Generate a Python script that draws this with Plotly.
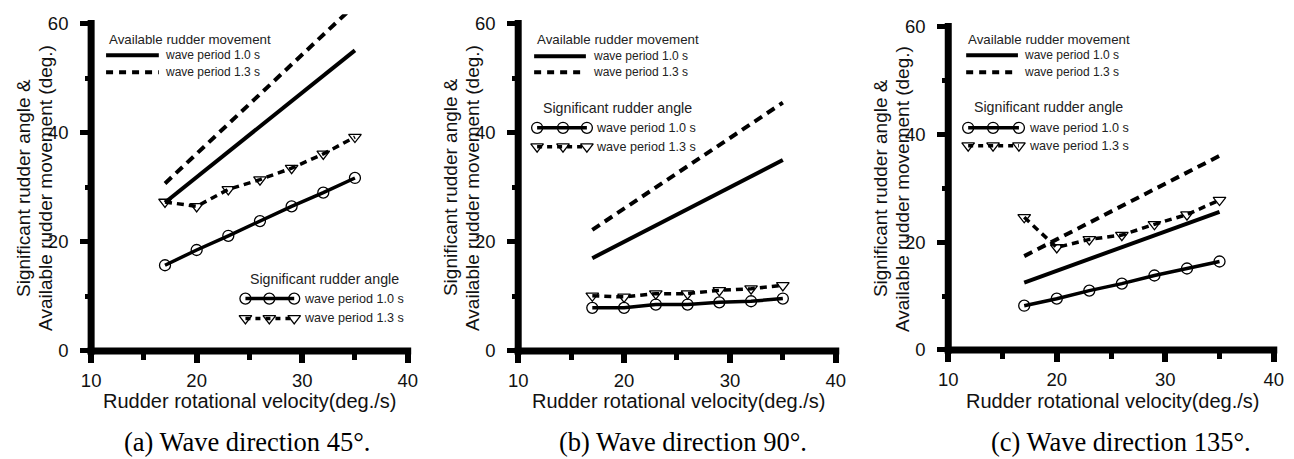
import plotly.graph_objects as go

# ---------------- data ----------------
x_vel = [17, 20, 23, 26, 29, 32, 35]
x_avail = [17, 35]

a_avail_10 = [27.2, 55.1]
a_avail_13 = [30.7, 63.4]
a_sig_10 = [15.7, 18.5, 21.1, 23.8, 26.5, 29.0, 31.7]
a_sig_13 = [27.3, 26.5, 29.6, 31.4, 33.5, 36.1, 39.2]

b_avail_10 = [17.0, 35.0]
b_avail_13 = [22.2, 45.5]
b_sig_10 = [7.9, 7.9, 8.5, 8.5, 8.9, 9.1, 9.6]
b_sig_13 = [10.1, 9.9, 10.5, 10.5, 11.1, 11.4, 12.0]

c_avail_10 = [12.5, 25.6]
c_avail_13 = [17.4, 36.0]
c_sig_10 = [8.2, 9.5, 11.0, 12.3, 13.8, 15.1, 16.4]
c_sig_13 = [24.6, 19.0, 20.5, 21.3, 23.3, 25.1, 27.8]

captions = ["(a) Wave direction 45°.", "(b) Wave direction 90°.", "(c) Wave direction 135°."]
x_ticks = [10, 20, 30, 40]
x_minor = [15, 25, 35]
y_ticks = [0, 20, 40, 60]
y_minor = [10, 30, 50]
x_title = "Rudder rotational velocity(deg./s)"
y_title1 = "Significant rudder angle &"
y_title2 = "Available rudder movement (deg.)"
leg1_title = "Available rudder movement"
leg2_title = "Significant rudder angle"
entry_10 = "wave period 1.0 s"
entry_13 = "wave period 1.3 s"

# ---------------- layout constants ----------------
W, H = 1294, 459
SANS = "Liberation Sans, Arial, sans-serif"
SERIF = "Liberation Serif, Times New Roman, serif"
XR = [10, 40]
YR = [0, 61.7]


# convert target-picture pixel positions into figure pixel positions
def RX(r):
    return (r - 6.5) / 0.989


def RY(r):
    return (r + 0.7) / 0.983


def fx(r):
    return RX(r) / W


def fy(r):
    return 1 - RY(r) / H


panels = [
    dict(data=(a_avail_10, a_avail_13, a_sig_10, a_sig_13),
         px_x=(88, 406), px_y=(351.7, 12.7),
         leg1=dict(tx=104, ty=38, l0=103, l1=156, r1=54, r2=71, etx=160),
         leg2=dict(tx=246, ty=279, mx=(243, 267, 292), r1=299, r2=319, etx=300),
         xt=(247, 402), cap=(245, 443)),
    dict(data=(b_avail_10, b_avail_13, b_sig_10, b_sig_13),
         px_x=(517, 836), px_y=(351.7, 12.7),
         leg1=dict(tx=534, ty=38, l0=533, l1=585, r1=55, r2=71, etx=590),
         leg2=dict(tx=540, ty=107, mx=(536, 562, 586), r1=127, r2=146, etx=593),
         xt=(678, 402), cap=(683, 443)),
    dict(data=(c_avail_10, c_avail_13, c_sig_10, c_sig_13),
         px_x=(949, 1276), px_y=(350.7, 15.7),
         leg1=dict(tx=967, ty=38, l0=967, l1=1019, r1=54, r2=71, etx=1023),
         leg2=dict(tx=973, ty=106, mx=(969, 994, 1020), r1=127, r2=145, etx=1028),
         xt=(1114, 402), cap=(1123, 443)),
]

fig = go.Figure()
shapes = []
annotations = []
layout = dict(width=W, height=H, margin=dict(l=0, r=0, t=0, b=0),
              paper_bgcolor="white", plot_bgcolor="rgba(0,0,0,0)",
              showlegend=False, font=dict(family=SANS, color="black"))

for i, p in enumerate(panels):
    n = "" if i == 0 else str(i + 1)
    xa, ya = "x" + n, "y" + n
    av10, av13, s10, s13 = p["data"]
    fig.add_trace(go.Scatter(x=x_avail, y=av13, mode="lines", xaxis=xa, yaxis=ya,
                             line=dict(color="black", width=4, dash="9px,6px")))
    fig.add_trace(go.Scatter(x=x_avail, y=av10, mode="lines", xaxis=xa, yaxis=ya,
                             line=dict(color="black", width=4)))
    fig.add_trace(go.Scatter(x=x_vel, y=s13, mode="lines+markers", xaxis=xa, yaxis=ya,
                             line=dict(color="black", width=3.5, dash="7px,5px"),
                             marker=dict(symbol="triangle-down-open", size=11,
                                         color="black", line=dict(width=1.3))))
    fig.add_trace(go.Scatter(x=x_vel, y=s10, mode="lines+markers", xaxis=xa, yaxis=ya,
                             line=dict(color="black", width=3.5),
                             marker=dict(symbol="circle-open", size=11,
                                         color="black", line=dict(width=1.3))))

    x0, x1 = p["px_x"]
    yb, yt = p["px_y"]
    layout["xaxis" + n] = dict(
        domain=[fx(x0), fx(x1)], range=XR, anchor=ya,
        showline=False, showgrid=False, zeroline=False,
        ticks="outside", tickvals=x_ticks, ticklen=11, tickwidth=6, tickcolor="black",
        tickfont=dict(size=18.5, family=SANS, color="#111"), ticklabelstandoff=2,
        minor=dict(tickvals=x_minor, ticks="outside", ticklen=8, tickwidth=5,
                   tickcolor="black", showgrid=False),
    )
    layout["yaxis" + n] = dict(
        domain=[fy(yb), fy(yt)], range=YR, anchor=xa,
        showline=False, showgrid=False, zeroline=False,
        ticks="outside", tickvals=y_ticks, ticklen=10, tickwidth=5, tickcolor="black",
        tickfont=dict(size=18.5, family=SANS, color="#111"), ticklabelstandoff=8,
        minor=dict(tickvals=y_minor, ticks="outside", ticklen=5, tickwidth=5,
                   tickcolor="black", showgrid=False),
    )
    # thick axis lines
    y60 = yb - (60 - YR[0]) / (YR[1] - YR[0]) * (yb - yt)
    shapes.append(dict(type="line", xref="paper", yref="paper",
                       x0=fx(x0), x1=fx(x0), y0=fy(yb + 3.5), y1=fy(y60 - 3.5),
                       line=dict(color="black", width=7)))
    shapes.append(dict(type="line", xref="paper", yref="paper",
                       x0=fx(x0 - 3.5), x1=fx(x1 + 3.5), y0=fy(yb), y1=fy(yb),
                       line=dict(color="black", width=7)))

    # axis titles
    ymid = (yb + yt + 10) / 2
    for dx, txt in ((-68, y_title1), (-46, y_title2)):
        annotations.append(dict(x=fx(x0 + dx), y=fy(ymid), xref="paper", yref="paper",
                                text=txt, textangle=-90, showarrow=False,
                                xanchor="center", yanchor="middle",
                                font=dict(size=19, family=SANS, color="#111")))
    annotations.append(dict(x=fx(p["xt"][0]), y=fy(p["xt"][1]), xref="paper", yref="paper",
                            text=x_title, showarrow=False, xanchor="center", yanchor="middle",
                            font=dict(size=20, family=SANS, color="#111")))
    annotations.append(dict(x=fx(p["cap"][0]), y=fy(p["cap"][1]), xref="paper", yref="paper",
                            text=captions[i], showarrow=False, xanchor="center", yanchor="middle",
                            font=dict(size=26.5, family=SERIF, color="black")))

    # legend 1 (available rudder movement)
    L1 = p["leg1"]
    annotations.append(dict(x=fx(L1["tx"]), y=fy(L1["ty"]), xref="paper", yref="paper",
                            text=leg1_title, showarrow=False, xanchor="left", yanchor="middle",
                            font=dict(size=13.3, family=SANS, color="#222")))
    for row, txt in ((L1["r1"], entry_10), (L1["r2"], entry_13)):
        annotations.append(dict(x=fx(L1["etx"]), y=fy(row), xref="paper", yref="paper",
                                text=txt, showarrow=False, xanchor="left", yanchor="middle",
                                font=dict(size=12, family=SANS, color="#222")))
    fig.add_trace(go.Scatter(x=[RX(L1["l0"]), RX(L1["l1"])], y=[RY(L1["r1"])] * 2, mode="lines",
                             xaxis="x4", yaxis="y4", line=dict(color="black", width=4)))
    fig.add_trace(go.Scatter(x=[RX(L1["l0"]), RX(L1["l1"])], y=[RY(L1["r2"])] * 2, mode="lines",
                             xaxis="x4", yaxis="y4",
                             line=dict(color="black", width=4, dash="7px,6px")))

    # legend 2 (significant rudder angle)
    L2 = p["leg2"]
    annotations.append(dict(x=fx(L2["tx"]), y=fy(L2["ty"]), xref="paper", yref="paper",
                            text=leg2_title, showarrow=False, xanchor="left", yanchor="middle",
                            font=dict(size=14.2, family=SANS, color="#222")))
    for row, txt in ((L2["r1"], entry_10), (L2["r2"], entry_13)):
        annotations.append(dict(x=fx(L2["etx"]), y=fy(row), xref="paper", yref="paper",
                                text=txt, showarrow=False, xanchor="left", yanchor="middle",
                                font=dict(size=12.6, family=SANS, color="#222")))
    mxs = [RX(m) for m in L2["mx"]]
    fig.add_trace(go.Scatter(x=mxs, y=[RY(L2["r1"])] * 3, mode="lines+markers",
                             xaxis="x4", yaxis="y4",
                             line=dict(color="black", width=3.5),
                             marker=dict(symbol="circle-open", size=11, color="black",
                                         line=dict(width=1.3))))
    fig.add_trace(go.Scatter(x=mxs, y=[RY(L2["r2"])] * 3, mode="lines+markers",
                             xaxis="x4", yaxis="y4",
                             line=dict(color="black", width=3.5, dash="5px,5px"),
                             marker=dict(symbol="triangle-down-open", size=11, color="black",
                                         line=dict(width=1.3))))

# overlay pixel-space axis for legend samples
layout["xaxis4"] = dict(domain=[0, 1], range=[0, W], anchor="y4", visible=False, fixedrange=True)
layout["yaxis4"] = dict(domain=[0, 1], range=[H, 0], anchor="x4", visible=False, fixedrange=True)
layout["shapes"] = shapes
layout["annotations"] = annotations
fig.update_layout(**layout)

fig.write_html("out.html")
